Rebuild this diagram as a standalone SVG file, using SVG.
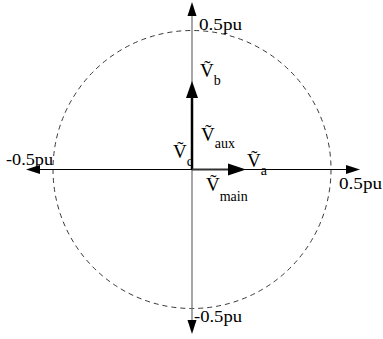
<svg xmlns="http://www.w3.org/2000/svg" width="383" height="339" viewBox="0 0 383 339">
<style>
text{font-family:"Liberation Serif","Times New Roman",serif;fill:#000}
.lbl{font-size:17px}
.v{font-size:19px}
.sub{font-size:14px}
.ah{fill:#000}
</style>
<rect width="383" height="339" fill="#fff"/>
<g id="circle">
<circle cx="192" cy="169.5" r="139" fill="none" stroke="#222" stroke-width="0.9" stroke-dasharray="5,4"/>
</g>
<g id="connectors">
<line x1="192" y1="14" x2="192" y2="321" stroke="#777" stroke-width="1.3"/>
<line x1="38" y1="169.5" x2="347" y2="169.5" stroke="#000" stroke-width="1.2"/>
<polygon class="ah" points="192,2 187.5,16 196.5,16"/>
<polygon class="ah" points="192,334 187.5,320 196.5,320"/>
<polygon class="ah" points="26,169.5 40,165 40,174"/>
<polygon class="ah" points="360,169.5 346,165 346,174"/>
<line x1="192" y1="169.5" x2="192" y2="96" stroke="#000" stroke-width="2.5"/>
<polygon class="ah" points="192,81 186,98 198,98"/>
<line x1="192" y1="169.5" x2="229" y2="169.5" stroke="#333" stroke-width="2.2"/>
<polygon class="ah" points="246,169.5 228,163.5 228,175.5"/>
</g>
<g id="axis-labels">
<text class="lbl" x="199" y="30" textLength="43" lengthAdjust="spacingAndGlyphs">0.5pu</text>
<text class="lbl" x="339" y="189" textLength="43" lengthAdjust="spacingAndGlyphs">0.5pu</text>
<text class="lbl" x="6" y="165" textLength="47" lengthAdjust="spacingAndGlyphs">-0.5pu</text>
<text class="lbl" x="194" y="322" textLength="48" lengthAdjust="spacingAndGlyphs">-0.5pu</text>
</g>
<g id="Vb">
<text class="v" x="200" y="77">V&#x303;<tspan class="sub" dy="8">b</tspan></text>
</g>
<g id="Vaux">
<text class="v" x="201" y="141">V&#x303;<tspan class="sub" dy="7">aux</tspan></text>
</g>
<g id="Vc">
<text class="v" x="173" y="158">V&#x303;<tspan class="sub" dy="8">c</tspan></text>
</g>
<g id="Va">
<text class="v" x="247" y="167">V&#x303;<tspan class="sub" dy="8">a</tspan></text>
</g>
<g id="Vmain">
<text class="v" x="206" y="191">V&#x303;<tspan class="sub" dy="10">main</tspan></text>
</g>
</svg>
